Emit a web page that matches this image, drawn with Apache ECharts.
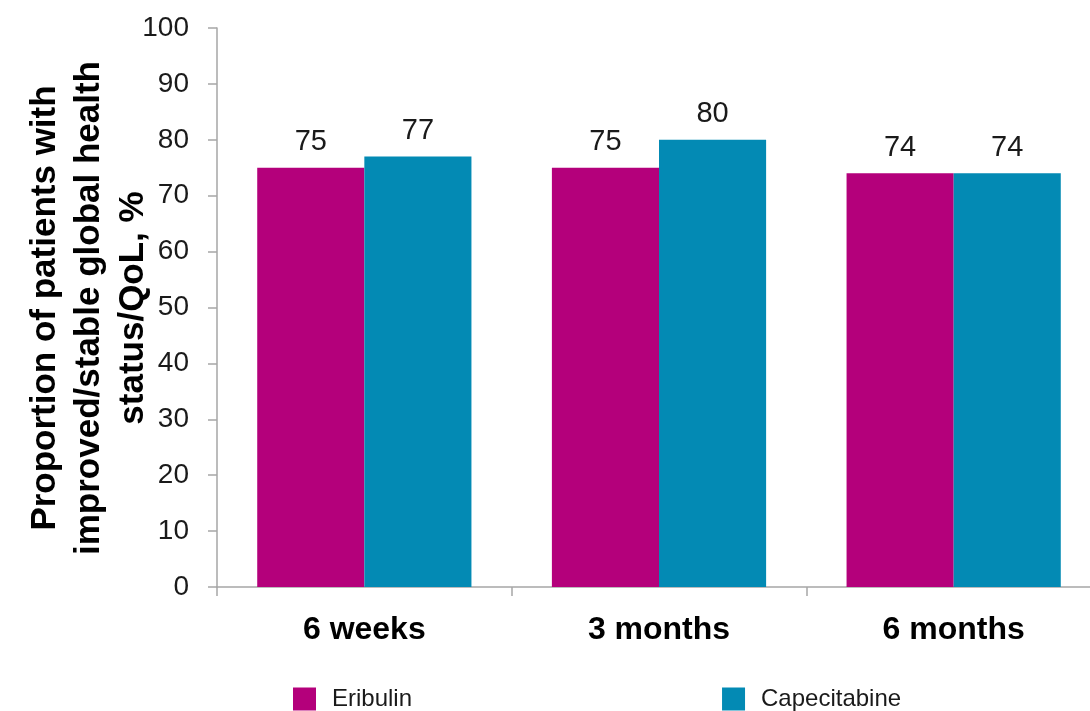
<!DOCTYPE html>
<html>
<head>
<meta charset="utf-8">
<script src="https://cdn.jsdelivr.net/npm/echarts@6/dist/echarts.min.js"></script>
<style>
  html, body { margin: 0; padding: 0; background: #fff; overflow: hidden; }
  /* the plot runs a little past the right edge of the page */
  #chart { width: 1101px; height: 711px; }
</style>
</head>
<body>
<div id="chart"></div>
<script>
// Assessment time points
const categories = ['6 weeks', '3 months', '6 months'];
// Proportion (%) of patients with improved/stable global health status/QoL
const eribulin = [75, 75, 74];
const capecitabine = [77, 80, 74];
// Y-axis scale
const yMin = 0;
const yMax = 100;
const yStep = 10;

const FONT = '"Liberation Sans", Arial, sans-serif';
const chart = echarts.init(document.getElementById('chart'), null, { renderer: 'canvas' });

const valueLabel = {
  show: true,
  position: 'top',
  distance: 11,
  color: '#1a1a1a',
  fontFamily: FONT,
  fontSize: 29
};

chart.setOption({
  animation: false,
  backgroundColor: '#ffffff',
  grid: { left: 217, top: 28, bottom: 124, right: 0, containLabel: false },
  xAxis: {
    type: 'category',
    data: categories,
    axisLine: { show: true, lineStyle: { color: '#a6a6a6', width: 1.5 } },
    axisTick: { show: true, alignWithLabel: false, length: 9, lineStyle: { color: '#a6a6a6', width: 1.5 } },
    axisLabel: { color: '#000', fontFamily: FONT, fontSize: 32, fontWeight: 'bold', margin: 27 },
    splitLine: { show: false }
  },
  yAxis: {
    type: 'value',
    min: yMin,
    max: yMax,
    interval: yStep,
    axisLine: { show: true, lineStyle: { color: '#a6a6a6', width: 1.5 } },
    axisTick: { show: true, inside: false, length: 9, lineStyle: { color: '#a6a6a6', width: 1.5 } },
    axisLabel: { color: '#1a1a1a', fontFamily: FONT, fontSize: 28, margin: 28 },
    splitLine: { show: false }
  },
  legend: {
    left: 288,
    top: 682,
    itemWidth: 23,
    itemHeight: 23,
    itemGap: 310,
    icon: 'rect',
    textStyle: { color: '#1a1a1a', fontFamily: FONT, fontSize: 24, padding: [0, 0, 0, 11] },
    data: ['Eribulin', 'Capecitabine']
  },
  graphic: [{
    type: 'text',
    x: 89,
    y: 308,
    rotation: Math.PI / 2,
    style: {
      text: 'Proportion of patients with\nimproved/stable global health\nstatus/QoL, %',
      font: 'bold 35px ' + FONT,
      fill: '#000',
      textAlign: 'center',
      textVerticalAlign: 'middle',
      lineHeight: 44
    }
  }],
  series: [
    {
      name: 'Eribulin',
      type: 'bar',
      data: eribulin,
      barGap: '0%',
      barCategoryGap: '27.3%',
      itemStyle: { color: '#b4007b' },
      label: valueLabel
    },
    {
      name: 'Capecitabine',
      type: 'bar',
      data: capecitabine,
      itemStyle: { color: '#038ab4' },
      label: valueLabel
    }
  ]
});
</script>
</body>
</html>
